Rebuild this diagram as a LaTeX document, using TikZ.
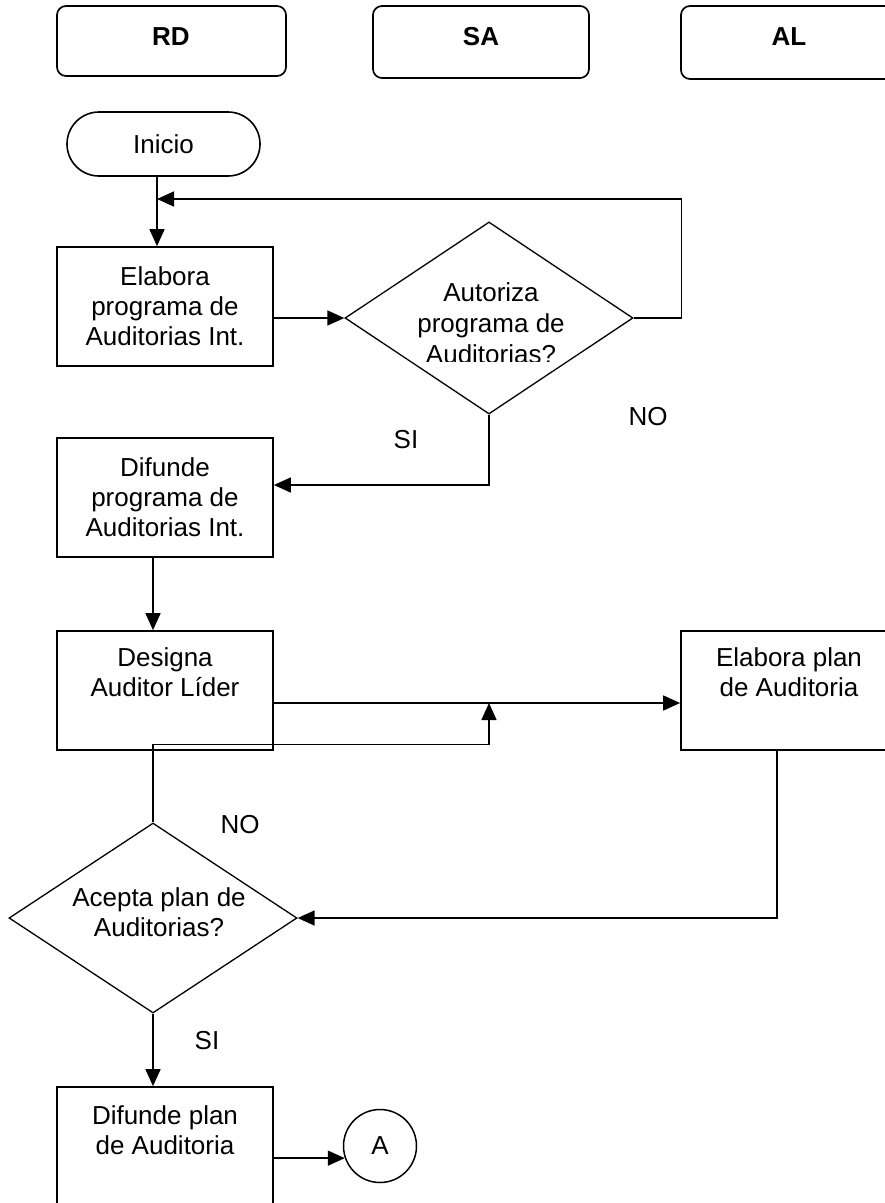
\documentclass[tikz,border=0pt]{standalone}
\usepackage{fontspec}
\setmainfont{Liberation Sans}
\usetikzlibrary{shapes.geometric,arrows.meta,calc}
\begin{document}
\begin{tikzpicture}[x=1pt,y=-1pt,
  txt/.style={font=\fontsize{26}{30}\selectfont, align=center, inner sep=0pt},
  hdrbox/.style={draw, line width=1.7pt, rounded corners=9pt, inner sep=0pt},
  hdrtxt/.style={font=\fontsize{26}{30}\selectfont\bfseries, inner sep=0pt},
  procbox/.style={draw, line width=1.7pt, minimum width=216pt, inner sep=0pt, txt},
  decision/.style={draw, diamond, line width=1.3pt, inner sep=0pt},
  arr/.style={line width=1.6pt, -{Triangle[length=17pt,width=15pt]}},
  ln/.style={line width=1.6pt}
]
\useasboundingbox (0,0) rectangle (885,1203);
\clip (0,0) rectangle (885,1203);

% header boxes
\node[hdrbox, minimum width=229pt, minimum height=70pt] (rd) at (171.5,41) {};
\node[hdrbox, minimum width=216pt, minimum height=72pt] (sa) at (481,42) {};
\node[hdrbox, minimum width=216pt, minimum height=73pt] (al) at (789,42.5) {};
\node[hdrtxt] (rdt) at (171,37) {RD};
\node[hdrtxt] (sat) at (481,37) {SA};
\node[hdrtxt] (alt) at (789,37) {AL};

% start
\node[draw, line width=1.6pt, rounded corners=32pt, minimum width=193pt, minimum height=64pt, txt] (inicio) at (163.5,144) {Inicio};

% process boxes
\node[procbox, minimum height=119pt] (elab) at (165,306.5) {Elabora\\programa de\\Auditorias Int.};
\node[procbox, minimum height=119pt] (dif) at (165,497.5) {Difunde\\programa de\\Auditorias Int.};
\node[procbox, minimum height=119pt] (des) at (165,690.5) {};
\node[txt] (dest) at (165,672) {Designa\\Auditor Líder};
\node[procbox, minimum height=119pt] (ep) at (789,690.5) {};
\node[txt] (ept) at (789,672) {Elabora plan\\de Auditoria};
\node[procbox, minimum height=123pt] (dp) at (165,1148.5) {};
\node[txt] (dpt) at (165,1130) {Difunde plan\\de Auditoria};

% decisions
\node[decision, minimum width=288pt, minimum height=192pt] (d1) at (489,318) {};
\begin{scope}
  \clip (330,200) rectangle (650,361);
  \node[txt, font=\fontsize{26}{31}\selectfont] (d1t) at (491,323.5) {Autoriza\\programa de\\Auditorias?};
\end{scope}
\node[decision, minimum width=288pt, minimum height=190pt] (d2) at (153,918) {};
\node[txt] (d2t) at (159,912) {Acepta plan de\\Auditorias?};

% connector A
\node[draw, circle, line width=1.5pt, minimum size=73pt, inner sep=0pt, txt] (A) at (380,1146) {A};

% labels
\node[txt] (si1) at (406,440) {SI};
\node[txt] (no1) at (648,417) {NO};
\node[txt] (no2) at (240,825) {NO};
\node[txt] (si2) at (207,1041) {SI};

% coordinates
\coordinate (fbend) at (157,199);
\coordinate (nojoin) at (489,703);

% connectors
\draw[arr] ([xshift=-6.5pt]inicio.south) -- ([xshift=-8pt]elab.north);
\draw[arr] (d1.east) -- ++(48,0) |- (fbend);
\draw[arr] (elab.east |- d1.west) -- (d1.west);
\draw[arr] (d1.south) |- ([yshift=12.5pt]dif.east);
\draw[arr] ([xshift=-12pt]dif.south) -- ([xshift=-12pt]des.north);
\draw[arr] ([yshift=-12.5pt]des.east) -- ([yshift=-12.5pt]ep.west);
\draw[arr] ([xshift=-12pt]ep.south) |- (d2.east);
\draw[arr] (d2.north) -- ++(0,-78) -| (nojoin);
\draw[arr] (d2.south) -- (d2.south |- dp.north);
\draw[arr] (dp.east |- A.199) -- (A.199);
\end{tikzpicture}
\end{document}
